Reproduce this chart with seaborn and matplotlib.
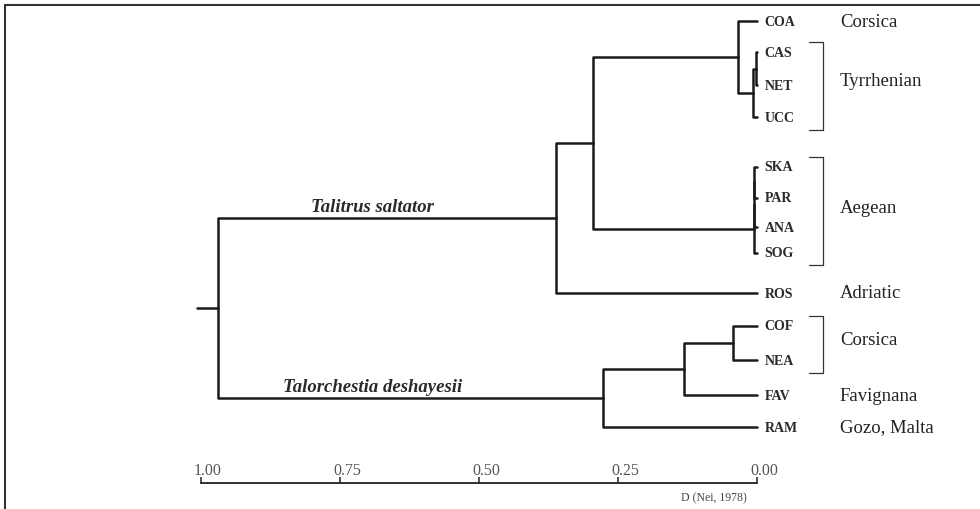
import numpy as np
import pandas as pd
import matplotlib
matplotlib.use("Agg")
import matplotlib.pyplot as plt
import matplotlib.transforms as mtransforms
from matplotlib.lines import Line2D
import seaborn as sns

# ---------------- data ----------------
leaves = ["COA", "CAS", "NET", "UCC", "SKA", "PAR", "ANA", "SOG",
          "ROS", "COF", "NEA", "FAV", "RAM"]
# merges (linkage-style): child a, child b, genetic distance D of the join
merge_a = ["CAS", "n0", "COA", "SKA", "n3", "n4", "n2", "n6", "COF", "n8", "n9", "n7"]
merge_b = ["NET", "UCC", "n1", "PAR", "ANA", "SOG", "n5", "ROS", "NEA", "FAV", "RAM", "n10"]
merge_d = [0.001, 0.007, 0.034, 0.006, 0.006, 0.006, 0.295, 0.362, 0.043, 0.131, 0.277, 0.969]
root_stub_d = 1.007

region_names = ["Corsica", "Tyrrhenian", "Aegean", "Adriatic", "Corsica", "Favignana", "Gozo, Malta"]
region_members = [["COA"], ["CAS", "NET", "UCC"], ["SKA", "PAR", "ANA", "SOG"], ["ROS"],
                  ["COF", "NEA"], ["FAV"], ["RAM"]]

species_names = ["Talitrus saltator", "Talorchestia deshayesii"]
species_nodes = ["n7", "n10"]

scale_ticks = [1.00, 0.75, 0.50, 0.25, 0.00]
scale_label = "D (Nei, 1978)"

# ---------------- layout ----------------
leaf_spacing = [0, 0.97, 1.03, 1.0, 1.56, 0.97, 0.91, 0.8, 1.26, 1.03, 1.07, 1.09, 1.0]
leaf_rows = np.cumsum(leaf_spacing)

sns.set_theme(style="white")
plt.rcParams["font.family"] = ["Liberation Serif", "DejaVu Serif"]

W, H = 980, 510
fig = plt.figure(figsize=(W / 100, H / 100), dpi=100)
ax = fig.add_axes([0, 0, 1, 1])
px_per_D = 556.0
x0 = 757.0  # pixel of D = 0
row_px = 32.0
row0 = 22.0
ax.set_xlim(x0 / px_per_D, (x0 - W) / px_per_D)
ax.set_ylim((H - row0) / row_px, -row0 / row_px)
ax.axis("off")

# compute node positions
pos = {name: (0.0, y) for name, y in zip(leaves, leaf_rows)}
segs = []
for i, (a, b, d) in enumerate(zip(merge_a, merge_b, merge_d)):
    ya, yb = pos[a][1], pos[b][1]
    ny = (ya + yb) / 2
    for c in (a, b):
        cd, cy = pos[c]
        segs.append([(cd, cy), (d, cy), (d, ny)])
    pos[f"n{i}"] = (d, ny)
root = f"n{len(merge_d) - 1}"
rd, ry = pos[root]
segs.append([(rd, ry), (root_stub_d, ry)])

rows = []
for k, s in enumerate(segs):
    for j, (x, y) in enumerate(s):
        rows.append({"seg": k, "order": j, "D": x, "row": y})
df = pd.DataFrame(rows)

sns.lineplot(data=df, x="D", y="row", units="seg", estimator=None, sort=False,
             color="#1a1a1a", linewidth=1.8, ax=ax, legend=False)

# leaf labels
for name, y in zip(leaves, leaf_rows):
    ax.text(-0.014, y, name, fontsize=10, fontweight="bold", color="#2a2a2a",
            ha="left", va="center")

# region labels and brackets
br_x, br_tick = -0.119, -0.0935
for rname, members in zip(region_names, region_members):
    ys = [pos[m][1] for m in members]
    ax.text(-0.149, np.mean(ys) - (0.12 if len(ys) > 1 else 0), rname, fontsize=13.5,
            color="#222", ha="left", va="center")
    if len(ys) > 1:
        top, bot = min(ys) - 0.3, max(ys) + 0.4
        ax.plot([br_tick, br_x, br_x, br_tick], [top, top, bot, bot],
                color="#333", linewidth=0.9)

# species labels
for sname, node in zip(species_names, species_nodes):
    ax.text(0.692, pos[node][1] - 0.1, sname, fontsize=13.5, fontweight="bold",
            fontstyle="italic", color="#2a2a2a", ha="center", va="bottom")

# scale axis
scale_row = (484 - row0) / row_px
ax2 = fig.add_axes([201 / W, 1 - 484 / H, 556 / W, 0.0001])
ax2.patch.set_visible(False)
ax2.set_xlim(1, 0)
ax2.set_ylim(0, 1)
ax2.set_xticks(scale_ticks)
ax2.set_xticklabels([f"{t:.2f}" for t in scale_ticks], fontsize=11.5, color="#555")
ax2.tick_params(axis="x", which="major", top=False, bottom=False, labeltop=True,
                labelbottom=False, length=0, pad=3.5)
ax2.set_yticks([])
sns.despine(ax=ax2, top=False, bottom=True, left=True, right=True)
ax2.spines["top"].set_linewidth(1.3)
ax2.spines["top"].set_color("#222")
shift = mtransforms.ScaledTranslation(7 / 100, 0, fig.dpi_scale_trans)
for lab in ax2.get_xticklabels():
    lab.set_transform(lab.get_transform() + shift)
# tick marks (pointing up from the scale line)
ax.vlines(scale_ticks, scale_row, scale_row - 6 / row_px, color="#222", linewidth=1.1)

ax.text(0.077, (498 - row0) / row_px, scale_label, fontsize=8.5, color="#444",
        ha="center", va="center")

# frame (top and left rule)
fig.add_artist(Line2D([5 / W, 1], [1 - 6 / H, 1 - 6 / H], color="#333", linewidth=1.5))
fig.add_artist(Line2D([5 / W, 5 / W], [0, 1 - 6 / H], color="#333", linewidth=1.5))

fig.savefig("out.png", dpi=100)
